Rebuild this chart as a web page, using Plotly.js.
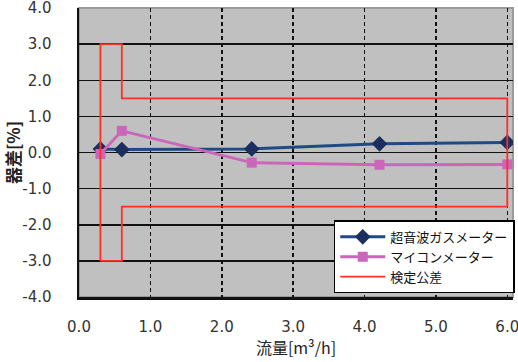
<!DOCTYPE html>
<html>
<head>
<meta charset="utf-8">
<script src="https://cdn.plot.ly/plotly-3.0.1.min.js"></script>
<style>html,body{margin:0;padding:0;background:#fff;}#chart{width:518px;height:362px;}</style>
</head>
<body>
<div id="chart"></div>
<script>
// Data
const flowPoints = [0.3, 0.6, 2.42, 4.21, 6.0];
const ultrasonicErr = [0.1, 0.08, 0.1, 0.24, 0.28];
const microErr = [-0.04, 0.6, -0.28, -0.34, -0.33];
const tolX = [0.3, 0.3, 0.6, 0.6, 6.0, 6.0, 0.6, 0.6, 0.3];
const tolY = [-3, 3, 3, 1.5, 1.5, -1.5, -1.5, -3, -3];
const seriesNames = ['超音波ガスメーター', 'マイコンメーター', '検定公差'];
const xTicks = [0, 1, 2, 3, 4, 5, 6];
const yTicks = [-4, -3, -2, -1, 0, 1, 2, 3, 4];

const tickFont = {family: 'DejaVu Sans, Verdana, sans-serif', size: 15, color: '#333'};
const cjk = 'Noto Sans CJK JP, sans-serif';

const traces = [
  {x: flowPoints, y: ultrasonicErr, name: seriesNames[0], mode: 'lines+markers', type: 'scatter',
   line: {color: '#1f4a85', width: 3}, marker: {symbol: 'diamond', size: 12, color: '#1a2f5e'}},
  {x: flowPoints, y: microErr, name: seriesNames[1], mode: 'lines+markers', type: 'scatter',
   line: {color: '#cc66bb', width: 3}, marker: {symbol: 'square', size: 10, color: '#cc66bb'}},
  {x: tolX, y: tolY, name: seriesNames[2], mode: 'lines', type: 'scatter',
   line: {color: '#ff3020', width: 1.8}}
];

const layout = {
  width: 518, height: 362,
  margin: {l: 79, r: 3, t: 8, b: 65},
  paper_bgcolor: '#ffffff',
  plot_bgcolor: '#c0c0c0',
  showlegend: true,
  legend: {x: 0.587, y: 0.265, xanchor: 'left', yanchor: 'top',
    bgcolor: '#ffffff', bordercolor: '#000', borderwidth: 1.5, itemwidth: 45,
    font: {family: cjk, size: 13, color: '#111'}, tracegroupgap: 2},
  xaxis: {
    range: [0, 6.08], tickvals: xTicks, ticktext: xTicks.map(v => v.toFixed(1)),
    showgrid: true, gridcolor: '#111', gridwidth: 1.5, griddash: '4px,3px',
    showline: true, linecolor: '#111', linewidth: 2.5, zeroline: false,
    ticks: '', ticklabelstandoff: 14, ticklabeloverflow: 'allow', tickfont: tickFont,
    title: {text: '流量[m³/h]', font: {family: cjk, size: 16, color: '#222'}, standoff: 8}
  },
  yaxis: {
    range: [-4, 4], tickvals: yTicks, ticktext: yTicks.map(v => v.toFixed(1)),
    showgrid: true, gridcolor: '#111', gridwidth: 1.5,
    showline: true, linecolor: '#111', linewidth: 2.5, zeroline: false,
    ticks: '', ticklabelstandoff: 22, ticklabeloverflow: 'allow', tickfont: tickFont,
    title: {text: '器差[%]', font: {family: cjk, size: 17, color: '#222', weight: 'bold'}, standoff: 6}
  },
  shapes: [
    {type: 'rect', xref: 'paper', yref: 'paper', x0: 0, x1: 1, y0: 0, y1: 1,
     line: {color: '#9a9a9a', width: 2}, layer: 'below'}
  ]
};

Plotly.newPlot('chart', traces, layout, {staticPlot: true});
</script>
</body>
</html>
